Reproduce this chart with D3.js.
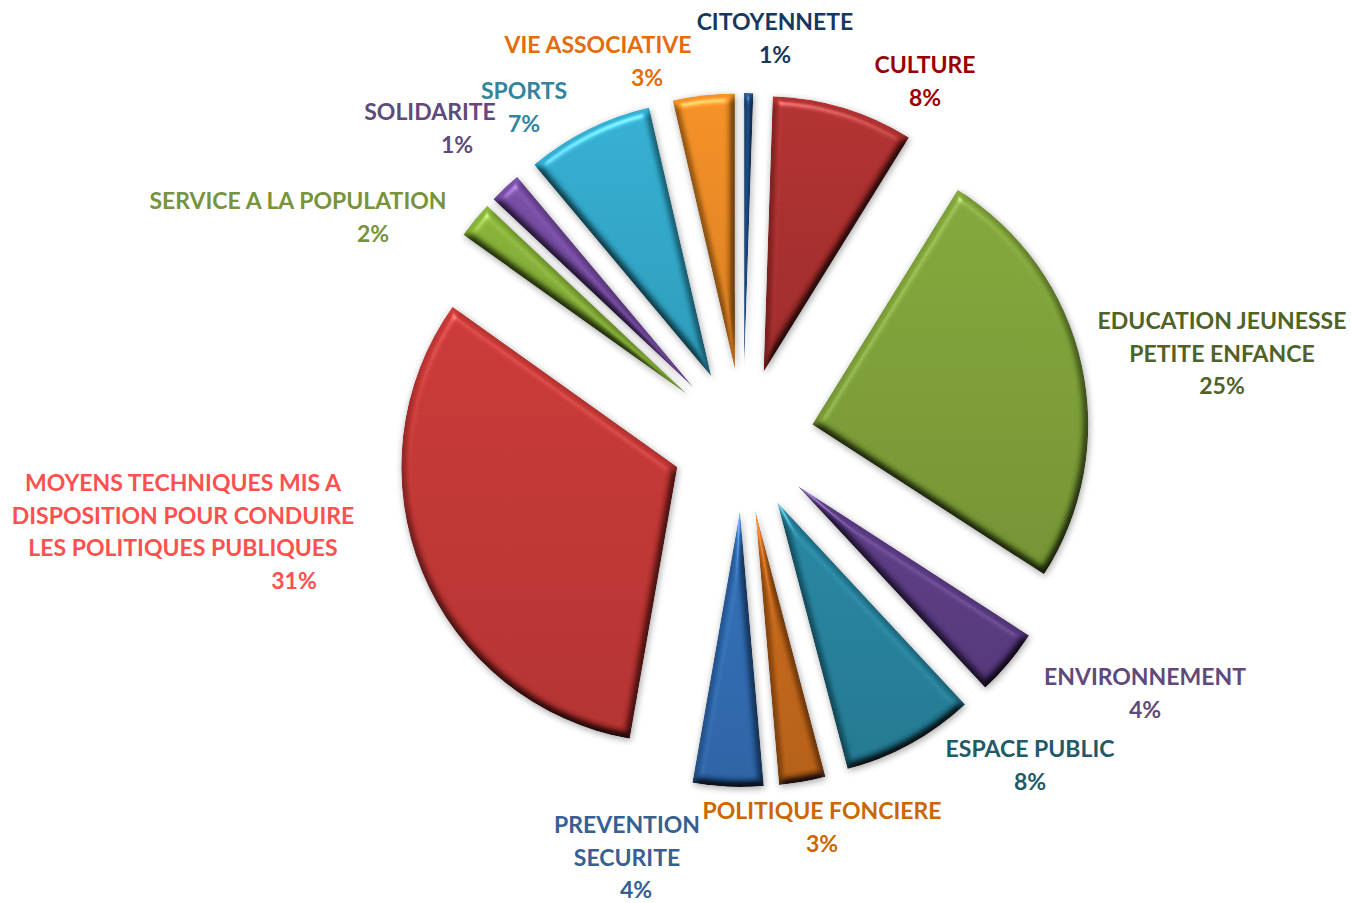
<!DOCTYPE html>
<html lang="fr">
<head>
<meta charset="UTF-8">
<title>Répartition par politique publique</title>
<script src="https://cdn.jsdelivr.net/npm/d3@7"></script>
<style>
  body { margin: 0; background: #fff; }
  svg { display: block; }
  text { font-family: Lato, "Open Sans", sans-serif; font-weight: 700; }
</style>
</head>
<body>
<div id="chart"></div>
<script>
// Libellés, dans l'ordre du camembert
const names = [
  ["CULTURE"],
  ["EDUCATION JEUNESSE", "PETITE ENFANCE"],
  ["ENVIRONNEMENT"],
  ["ESPACE PUBLIC"],
  ["POLITIQUE FONCIERE"],
  ["PREVENTION", "SECURITE"],
  ["MOYENS TECHNIQUES MIS A", "DISPOSITION POUR CONDUIRE", "LES POLITIQUES PUBLIQUES"],
  ["SERVICE A LA POPULATION"],
  ["SOLIDARITE"],
  ["SPORTS"],
  ["VIE ASSOCIATIVE"],
  ["CITOYENNETE"]
];
// Pourcentages affichés
const percents = [8, 25, 4, 8, 3, 4, 31, 2, 1, 7, 3, 1];
const shares = [8.27, 25.2, 3.93, 7.78, 2.71, 4.12, 31.96, 2.16, 1.88, 7.44, 3.6, 0.53];

const sliceColors = ["#ab3130", "#7fa13a", "#5c3d84", "#28839d", "#c3681c", "#326db2",
                     "#c23937", "#84ad38", "#754ca0", "#34a9ca", "#ea8b26", "#1e4a80"];
const labelColors = ["#990000", "#4f6228", "#604a7b", "#215968", "#cc6600", "#376092",
                     "#ff5050", "#77933c", "#604a7b", "#31859c", "#e46c0a", "#17375e"];

// Position des étiquettes : centre des noms, centre du %, première ligne de base
const labelLayout = [
  [925, 925, 73], [1222, 1222, 329], [1145, 1145, 685], [1030, 1030, 757],
  [822, 822, 819], [627, 636, 833], [183, 294, 491], [298, 373, 209],
  [430, 457, 120], [524, 524, 99], [598, 647, 53], [775, 775, 30]
];

const width = 1351, height = 903;
const cx = 743, cy = 440, radius = 276, explode = 71;
const fontSize = 23, lineHeight = 32.5;

const svg = d3.select("#chart").append("svg")
  .attr("width", width)
  .attr("height", height);

const defs = svg.append("defs");

// Biseau : la forme floutée sert de relief pour l'éclairage
const bevel = defs.append("filter")
  .attr("id", "bevel")
  .attr("filterUnits", "userSpaceOnUse")
  .attr("x", -720).attr("y", -480).attr("width", 1440).attr("height", 960)
  .attr("color-interpolation-filters", "sRGB");
bevel.append("feGaussianBlur")
  .attr("in", "SourceAlpha").attr("stdDeviation", 4).attr("result", "height");
const diffuse = bevel.append("feDiffuseLighting")
  .attr("in", "height").attr("surfaceScale", 7).attr("diffuseConstant", 1.15)
  .attr("lighting-color", "#ffffff").attr("result", "diffuse");
diffuse.append("feDistantLight").attr("azimuth", 255).attr("elevation", 60);
bevel.append("feComposite")
  .attr("in", "SourceGraphic").attr("in2", "diffuse")
  .attr("operator", "arithmetic")
  .attr("k1", 1).attr("k2", 0).attr("k3", 0).attr("k4", 0)
  .attr("result", "lit");
const spec = bevel.append("feSpecularLighting")
  .attr("in", "height").attr("surfaceScale", 7).attr("specularConstant", 0.5)
  .attr("specularExponent", 18).attr("lighting-color", "#ffffff").attr("result", "spec");
spec.append("feDistantLight").attr("azimuth", 255).attr("elevation", 42);
bevel.append("feComposite")
  .attr("in", "lit").attr("in2", "spec")
  .attr("operator", "arithmetic")
  .attr("k1", 0).attr("k2", 1).attr("k3", 0.7).attr("k4", -0.07)
  .attr("result", "litSpec");
bevel.append("feComposite")
  .attr("in", "litSpec").attr("in2", "SourceAlpha").attr("operator", "in").attr("result", "body");
bevel.append("feGaussianBlur")
  .attr("in", "SourceAlpha").attr("stdDeviation", 3.5).attr("result", "shadowBlur");
bevel.append("feOffset")
  .attr("in", "shadowBlur").attr("dx", 1).attr("dy", 2).attr("result", "shadowOff");
bevel.append("feComponentTransfer")
  .attr("in", "shadowOff").attr("result", "shadow")
  .append("feFuncA").attr("type", "linear").attr("slope", 0.35);
const merge = bevel.append("feMerge");
merge.append("feMergeNode").attr("in", "shadow");
merge.append("feMergeNode").attr("in", "body");

// Dégradé vertical de chaque secteur
sliceColors.forEach(function(c, i) {
  const g = defs.append("linearGradient")
    .attr("id", "grad" + i)
    .attr("x1", 0).attr("y1", 0).attr("x2", 0).attr("y2", 1);
  g.append("stop").attr("offset", "0%").attr("stop-color", d3.color(c).brighter(0.15));
  g.append("stop").attr("offset", "100%").attr("stop-color", d3.color(c).darker(0.2));
});

const pie = d3.pie()
  .sort(null)
  .value(d => d)
  .startAngle(1.9 * Math.PI / 180)
  .endAngle((360 + 1.9) * Math.PI / 180);

const arc = d3.arc().innerRadius(0).outerRadius(radius);

svg.append("g")
  .attr("transform", `translate(${cx},${cy})`)
  .selectAll("path")
  .data(pie(shares))
  .enter()
  .append("path")
  .attr("d", arc)
  .attr("fill", (d, i) => `url(#grad${i})`)
  .attr("filter", "url(#bevel)")
  .attr("transform", function(d) {
    const mid = (d.startAngle + d.endAngle) / 2;
    return `translate(${explode * Math.sin(mid)},${-explode * Math.cos(mid)})`;
  });

// Étiquettes
const labels = svg.append("g")
  .attr("font-size", fontSize)
  .attr("text-anchor", "middle");

names.forEach(function(lines, i) {
  const pos = labelLayout[i];
  lines.forEach(function(line, j) {
    labels.append("text")
      .attr("x", pos[0])
      .attr("y", pos[2] + j * lineHeight)
      .attr("fill", labelColors[i])
      .text(line);
  });
  labels.append("text")
    .attr("x", pos[1])
    .attr("y", pos[2] + lines.length * lineHeight)
    .attr("fill", labelColors[i])
    .text(percents[i] + "%");
});
</script>
</body>
</html>
